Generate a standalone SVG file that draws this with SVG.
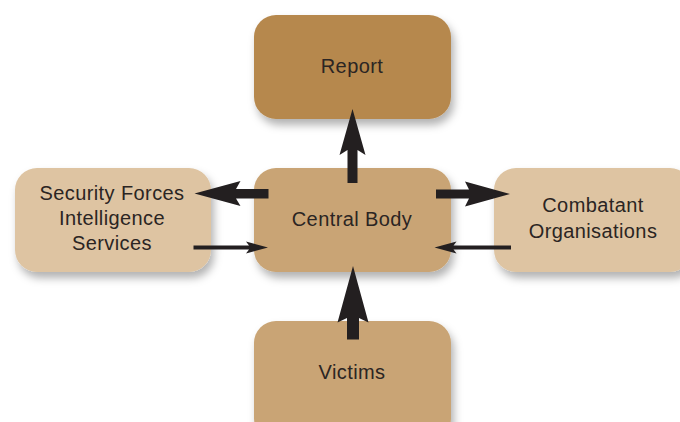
<svg xmlns="http://www.w3.org/2000/svg" width="680" height="422" viewBox="0 0 680 422">
  <defs>
    <filter id="sh" x="-20%" y="-20%" width="150%" height="160%">
      <feDropShadow dx="3" dy="6" stdDeviation="4" flood-color="#000" flood-opacity="0.3"/>
    </filter>
    <style>
      .box { filter: url(#sh); }
      .dark { fill: #b6884e; }
      .mid { fill: #c9a474; }
      .light { fill: #dec4a2; }
      .lbl { font-family: "Liberation Sans", Arial, sans-serif; font-size: 20px; fill: #2b2523; text-anchor: middle; letter-spacing: 0.4px; }
      .arrow { fill: #231f20; }
    </style>
  </defs>
  <rect width="680" height="422" fill="#ffffff"/>

  <g id="report">
    <rect class="box dark" x="254" y="15" width="197" height="104" rx="22"/>
    <text class="lbl" x="352" y="73">Report</text>
  </g>

  <g id="central">
    <rect class="box mid" x="254" y="168" width="197" height="104" rx="22"/>
    <text class="lbl" x="352" y="226">Central Body</text>
  </g>

  <g id="security">
    <rect class="box light" x="15" y="168" width="196" height="104" rx="22"/>
    <text class="lbl" x="112" y="200">Security Forces</text>
    <text class="lbl" x="112" y="225">Intelligence</text>
    <text class="lbl" x="112" y="250">Services</text>
  </g>

  <g id="combatant">
    <rect class="box light" x="494" y="168" width="198" height="104" rx="22"/>
    <text class="lbl" x="593" y="212">Combatant</text>
    <text class="lbl" x="593" y="238">Organisations</text>
  </g>

  <g id="victims">
    <rect class="box mid" x="254" y="321" width="197" height="120" rx="22"/>
    <text class="lbl" x="352" y="379">Victims</text>
  </g>

  <g id="connectors">
    <path class="arrow" d="M352.5,109 L365.5,155 L357.5,150 L357.5,183 L347.5,183 L347.5,150 L339.5,155 Z"/>
    <path class="arrow" d="M353,266 L368.5,322.5 L359,318 L359,339.5 L347,339.5 L347,318 L337.5,322.5 Z"/>
    <path class="arrow" d="M194.5,193.5 L240.5,181 L236,189 L268.5,189 L268.5,198.5 L236,198.5 L240.5,206 Z"/>
    <path class="arrow" d="M510,194 L465,181.5 L469,189.5 L436,189.5 L436,198.5 L469,198.5 L465,206.5 Z"/>
    <path class="arrow" d="M268,247.5 L246,241.5 L249,245.5 L193.5,245.5 L193.5,249.5 L249,249.5 L246,253.5 Z"/>
    <path class="arrow" d="M434.5,247.5 L456.5,241.5 L453.5,245.5 L511,245.5 L511,249.5 L453.5,249.5 L456.5,253.5 Z"/>
  </g>
</svg>
